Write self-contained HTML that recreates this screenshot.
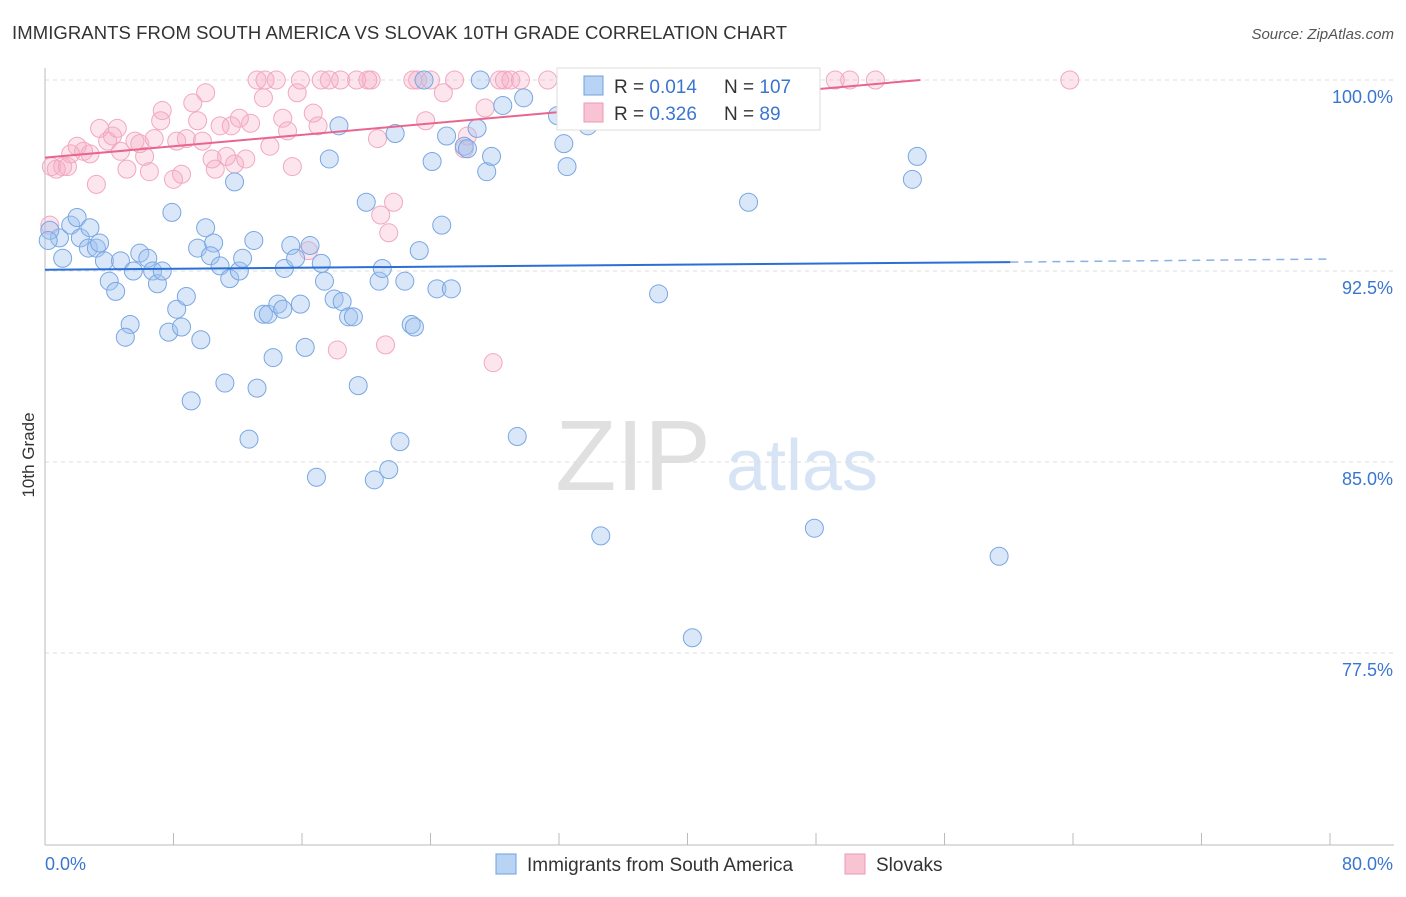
<!DOCTYPE html>
<html><head><meta charset="utf-8"><style>
body{margin:0;background:#fff;font-family:"Liberation Sans",sans-serif;}
svg text{font-family:"Liberation Sans",sans-serif;}
</style></head><body>
<svg id="chart" width="1406" height="892" xmlns="http://www.w3.org/2000/svg">
<text x="12" y="39" font-size="18.5" fill="#333" textLength="775">IMMIGRANTS FROM SOUTH AMERICA VS SLOVAK 10TH GRADE CORRELATION CHART</text>
<text x="1394" y="39" font-size="15" fill="#555" text-anchor="end" font-style="italic">Source: ZipAtlas.com</text>
<text x="34" y="455" font-size="17" fill="#333" text-anchor="middle" transform="rotate(-90 34 455)">10th Grade</text>
<g><text x="633" y="490" font-size="100" fill="#e0e0e0" text-anchor="middle" font-family="Liberation Serif">ZIP</text><text x="802" y="490" font-size="72" fill="#d6e4f5" text-anchor="middle">atlas</text></g>
<g id="grid"></g><g id="axes"></g><g id="pts"></g><g id="trends"></g>
<g>
<rect x="557" y="68" width="263" height="62" fill="#fff" stroke="#ddd"/>
<rect x="584" y="76" width="19" height="19" fill="#b9d3f5" stroke="#6fa0e0"/>
<rect x="584" y="103" width="19" height="19" fill="#f8c3d2" stroke="#ef9ab4"/>
<text x="614" y="93" font-size="19" fill="#333">R = <tspan fill="#3a76d0">0.014</tspan></text>
<text x="724" y="93" font-size="19" fill="#333">N = <tspan fill="#3a76d0">107</tspan></text>
<text x="614" y="120" font-size="19" fill="#333">R = <tspan fill="#3a76d0">0.326</tspan></text>
<text x="724" y="120" font-size="19" fill="#333">N = <tspan fill="#3a76d0"> 89</tspan></text>
</g>
<g>
<rect x="496" y="854" width="20" height="20" fill="#b9d3f5" stroke="#6fa0e0"/>
<text x="527" y="871" font-size="19" fill="#333">Immigrants from South America</text>
<rect x="845" y="854" width="20" height="20" fill="#f8c3d2" stroke="#ef9ab4"/>
<text x="876" y="871" font-size="19" fill="#333">Slovaks</text>
</g>
</svg>
<script>
const yTicks=[100,92.5,85,77.5];
const yTickLabels=["100.0%","92.5%","85.0%","77.5%"];
const xLabels=["0.0%","80.0%"];
const blueX=[0.9,1.1,1.6,2.0,2.2,2.7,2.8,3.2,3.4,3.7,4.0,4.4,4.7,5.3,5.0,5.5,5.9,6.4,6.7,7.0,7.3,7.9,7.7,8.2,8.5,8.8,9.1,9.5,9.7,10.0,10.5,10.3,10.9,11.2,11.5,11.8,12.1,12.3,12.7,13.0,13.2,13.6,13.9,14.2,14.5,14.8,14.9,15.3,15.6,15.9,16.2,16.5,16.9,17.2,17.4,17.7,18.0,18.3,18.5,18.9,19.2,19.5,20.0,20.5,20.8,21.0,21.4,21.8,22.1,22.4,22.8,23.0,23.3,23.6,24.1,24.4,24.7,25.0,25.3,26.1,26.3,26.9,27.1,27.5,27.8,28.5,29.4,29.8,31.9,32.3,32.5,33.8,34.6,38.2,40.3,43.8,47.9,54.0,54.3,59.4,0.3,0.2];
const blueY=[93.8,93.0,94.3,94.6,93.8,93.4,94.2,93.4,93.6,92.9,92.1,91.7,92.9,90.4,89.9,92.5,93.2,93.0,92.5,92.0,92.5,94.8,90.1,91.0,90.3,91.5,87.4,93.4,89.8,94.2,93.6,93.1,92.7,88.1,92.2,96.0,92.5,93.0,85.9,93.7,87.9,90.8,90.8,89.1,91.2,91.0,92.6,93.5,93.0,91.2,89.5,93.5,84.4,92.8,92.1,96.9,91.4,98.2,91.3,90.7,90.7,88.0,95.2,84.3,92.1,92.6,84.7,97.9,85.8,92.1,90.4,90.3,93.3,100,96.8,91.8,94.3,97.8,91.8,97.4,97.3,98.1,100,96.4,97.0,99.0,86.0,99.3,98.6,97.5,96.6,98.2,82.1,91.6,78.1,95.2,82.4,96.1,97.0,81.3,94.1,93.7];
const pinkX=[0.4,0.7,1.1,1.4,1.6,2.0,2.4,2.8,3.2,3.4,3.9,4.2,4.5,4.7,5.1,5.6,5.9,6.2,6.5,6.8,7.2,7.3,8.0,8.2,8.5,8.8,9.2,9.5,9.8,10.0,10.4,10.6,10.9,11.3,11.6,11.8,12.1,12.5,12.8,13.2,13.6,14.0,14.4,14.8,15.1,15.4,15.7,15.9,16.7,17.0,17.2,17.7,18.4,19.4,20.1,20.3,20.7,20.9,21.4,21.7,22.9,23.2,24.0,24.8,25.5,26.1,26.3,27.4,27.9,28.3,28.6,29.0,29.6,31.3,18.2,21.2,34.6,40.8,45.8,49.2,50.1,51.7,63.8,13.7,23.7,16.4,0.3];
const pinkY=[96.6,96.5,96.6,96.6,97.1,97.4,97.2,97.1,95.9,98.1,97.6,97.8,98.1,97.2,96.5,97.6,97.5,97.0,96.4,97.7,98.4,98.8,96.1,97.6,96.3,97.7,99.1,98.4,97.6,99.5,96.9,96.5,98.2,97.0,98.2,96.7,98.5,96.9,98.3,100,99.3,97.4,100,98.5,98.0,96.6,99.5,100,98.7,98.2,100,100,100,100,100,100,97.7,94.7,94.0,95.2,100,100,100,99.5,100,97.3,97.8,98.9,88.9,100,100,100,100,100,89.4,89.6,100,100,100,100,100,100,100,100,98.4,93.3,94.3];
const blueTrend=[[0,92.55],[60.1,92.85]];
const blueTrendExt=[[60.1,92.85],[80,92.97]];
const pinkTrend=[[0,96.95],[54.5,100]];
const NS="http://www.w3.org/2000/svg";
function sx(v){return 45+v/80*1285;}
function sy(v){return 80+(100-v)/7.5*191;}
function mk(tag,attrs,parent){const e=document.createElementNS(NS,tag);for(const k in attrs)e.setAttribute(k,attrs[k]);parent.appendChild(e);return e;}
const grid=document.getElementById('grid'),axes=document.getElementById('axes'),pts=document.getElementById('pts'),tr=document.getElementById('trends');
yTicks.forEach((t,i)=>{
 const l=mk('line',{x1:45,x2:1394,y1:sy(t),y2:sy(t),stroke:'#ddd','stroke-dasharray':'4,4'},grid);
 
 
 const tx=mk('text',{x:1393,y:sy(t)+23,'font-size':18,fill:'#3a76d0','text-anchor':'end'},axes);
 tx.textContent=yTickLabels[i];
 
 
});
const ax=mk('line',{x1:45,x2:1394,y1:845,y2:845,stroke:'#bbb'},axes);


const ay=mk('line',{x1:45,x2:45,y1:68,y2:845,stroke:'#bbb'},axes);


for(let v=0;v<=80;v+=8){
 const t=mk('line',{x1:sx(v),x2:sx(v),y1:845,y2:833,stroke:'#bbb'},axes);
 
 
}
const xl0=mk('text',{x:45,y:870,'font-size':18,fill:'#3a76d0'},axes);xl0.textContent=xLabels[0];


const xl1=mk('text',{x:1393,y:870,'font-size':18,fill:'#3a76d0','text-anchor':'end'},axes);xl1.textContent=xLabels[1];


pinkX.forEach((x,i)=>{
 const c=mk('circle',{cx:sx(x),cy:sy(pinkY[i]),r:9,fill:'rgba(245,170,195,0.3)',stroke:'#f2a8bf','stroke-width':1},pts);
 
 
});
blueX.forEach((x,i)=>{
 const c=mk('circle',{cx:sx(x),cy:sy(blueY[i]),r:9,fill:'rgba(160,195,240,0.4)',stroke:'#79a7e2','stroke-width':1},pts);
 
 
});
const bl=mk('line',{x1:sx(blueTrend[0][0]),y1:sy(blueTrend[0][1]),x2:sx(blueTrend[1][0]),y2:sy(blueTrend[1][1]),stroke:'#2a6fd6','stroke-width':2},tr);


const be=mk('line',{x1:sx(blueTrendExt[0][0]),y1:sy(blueTrendExt[0][1]),x2:sx(blueTrendExt[1][0]),y2:sy(blueTrendExt[1][1]),stroke:'#8ab0e6','stroke-width':1.5,'stroke-dasharray':'8,6'},tr);


const pl=mk('line',{x1:sx(pinkTrend[0][0]),y1:sy(pinkTrend[0][1]),x2:sx(pinkTrend[1][0]),y2:sy(pinkTrend[1][1]),stroke:'#e8668e','stroke-width':2},tr);


</script>
</body></html>
